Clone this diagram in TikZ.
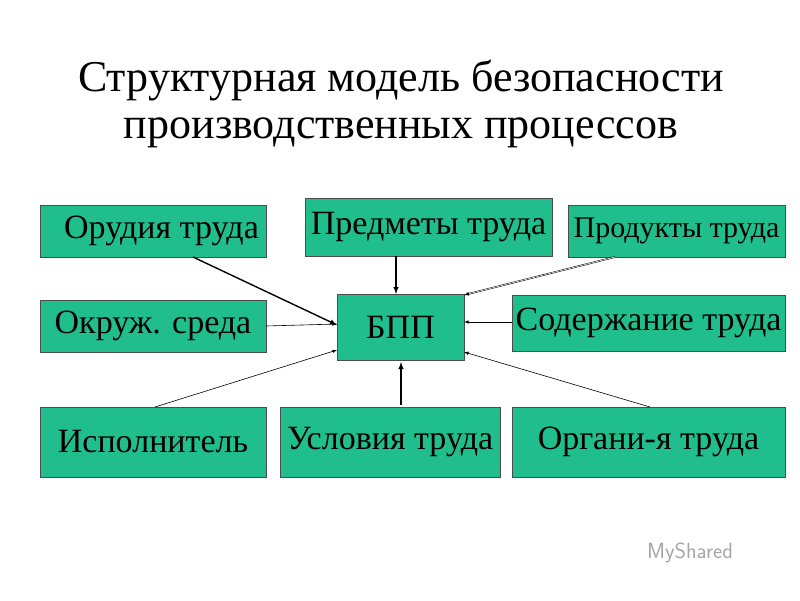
\documentclass[tikz,border=0pt]{standalone}
\usepackage{fontspec}
\setmainfont{Liberation Serif}
\begin{document}
\begin{tikzpicture}[x=1pt,y=-1pt,
  bx/.style={draw=black!70,line width=0.8pt,fill={rgb,255:red,32;green,190;blue,140},inner sep=0pt},
  ar/.style={-latex,line width=0.6pt},
  tar/.style={-latex,line width=1.4pt}]
\useasboundingbox (0,0) rectangle (800,600);
\node (t1) at (401,80) {\fontsize{44}{48}\selectfont Структурная модель безопасности};
\node (t2) at (401,133) {\fontsize{44}{48}\selectfont производственных процессов};
\newcommand{\bxn}[6]{\node[bx,minimum width=#4-#2,minimum height=#5-#3] (#1) at ({(#2+#4)/2},{(#3+#5)/2}) {#6};}
\bxn{a}{40}{205}{266}{257}{\fontsize{34}{36}\selectfont\ \ Орудия труда}
\bxn{b}{305}{198}{552}{256}{\fontsize{34}{36}\selectfont Предметы труда}
\bxn{c}{568}{205}{785}{257}{\fontsize{30}{32}\selectfont Продукты труда}
\bxn{d}{40}{300}{266}{352}{\fontsize{34}{36}\selectfont Окруж. среда}
\bxn{e}{337}{294}{464}{360}{\fontsize{34}{36}\selectfont БПП}
\bxn{f}{512}{295}{785}{351}{\fontsize{34}{36}\selectfont Содержание труда}
\bxn{g}{40}{407}{266}{477}{\fontsize{34}{36}\selectfont Исполнитель}
\bxn{h}{280}{407}{500}{477}{\fontsize{34}{36}\selectfont Условия труда}
\bxn{i}{512}{407}{785}{477}{\fontsize{34}{36}\selectfont Органи-я труда}
\coordinate (a1) at (193,257); \coordinate (e1) at (337,325);
\draw[tar] (a1) -- (e1);
\coordinate (b1) at (396,256); \coordinate (e2) at (396,294);
\draw[tar] (b1) -- (e2);
\coordinate (c1) at (615,257); \coordinate (e3) at (464,295);
\draw[tar,double,line width=0.5pt] (c1) -- (e3);
\coordinate (d1) at (266,326); \coordinate (e4) at (337,324);
\draw[ar] (d1) -- (e4);
\coordinate (f1) at (512,322); \coordinate (e5) at (464,322);
\draw[ar] (f1) -- (e5);
\coordinate (g1) at (155,407); \coordinate (e6) at (337,350);
\draw[ar] (g1) -- (e6);
\coordinate (h1) at (401,405); \coordinate (e7) at (401,362);
\draw[tar] (h1) -- (e7);
\coordinate (i1) at (650,407); \coordinate (e8) at (464,352);
\draw[ar] (i1) -- (e8);
\node[text=black!35,font=\sffamily\fontsize{22}{24}\selectfont] (w) at (690,553) {MyShared};
\end{tikzpicture}
\end{document}
